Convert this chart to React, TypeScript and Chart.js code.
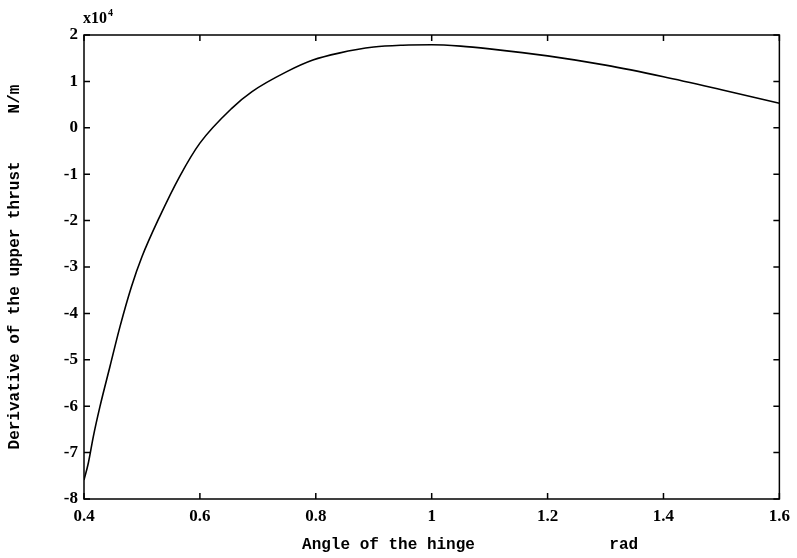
import React, { useEffect, useRef } from "react";
import { Chart, registerables } from "chart.js";

Chart.register(...registerables);

// Angle of the hinge (rad)
const angles = [0.4, 0.4074, 0.416, 0.4275, 0.4447, 0.462, 0.482, 0.5, 0.53, 0.565, 0.6, 0.655, 0.69, 0.75, 0.795, 0.84, 0.9, 0.95, 1.0, 1.05, 1.1, 1.2, 1.3, 1.4, 1.5, 1.6];
// Derivative of the upper thrust (x10^4 N/m)
const derivative = [-7.59, -7.23, -6.66, -6.01, -5.15, -4.29, -3.42, -2.78, -1.93, -1.05, -0.33, 0.42, 0.78, 1.21, 1.46, 1.61, 1.74, 1.78, 1.79, 1.76, 1.7, 1.55, 1.35, 1.1, 0.82, 0.53];

const xRange = { min: 0.4, max: 1.6, step: 0.2 };
const yRange = { min: -8, max: 2, step: 1 };
const xTitle = "        Angle of the hinge              rad";
const yTitle = "Derivative of the upper thrust     N/m";
const exponentBase = "x10";
const exponent = "4";

const framePlugin = {
  id: "frame",
  afterDraw(chart: any) {
    const { ctx, chartArea, scales } = chart;
    const { left, right, top, bottom } = chartArea;
    ctx.save();
    ctx.strokeStyle = "#000";
    ctx.lineWidth = 1.5;
    ctx.strokeRect(left, top, right - left, bottom - top);
    const tl = 6;
    ctx.beginPath();
    scales.x.ticks.forEach((t: any) => {
      const px = scales.x.getPixelForValue(t.value);
      ctx.moveTo(px, bottom);
      ctx.lineTo(px, bottom - tl);
      ctx.moveTo(px, top);
      ctx.lineTo(px, top + tl);
    });
    scales.y.ticks.forEach((t: any) => {
      const py = scales.y.getPixelForValue(t.value);
      ctx.moveTo(left, py);
      ctx.lineTo(left + tl, py);
      ctx.moveTo(right, py);
      ctx.lineTo(right - tl, py);
    });
    ctx.stroke();
    ctx.fillStyle = "#000";
    ctx.textAlign = "left";
    ctx.textBaseline = "alphabetic";
    ctx.font = "bold 16px 'Liberation Serif'";
    ctx.fillText(exponentBase, left - 1, 23);
    const w = ctx.measureText(exponentBase).width;
    ctx.font = "bold 10px 'Liberation Serif'";
    ctx.fillText(exponent, left - 1 + w + 1, 16);
    ctx.restore();
  },
};

export default function App() {
  const ref = useRef<HTMLCanvasElement>(null);
  useEffect(() => {
    if (!ref.current) return;
    const chart = new Chart(ref.current, {
      type: "line",
      data: {
        datasets: [
          {
            data: angles.map((a, i) => ({ x: a, y: derivative[i] })),
            borderColor: "#000",
            borderWidth: 1.6,
            pointRadius: 0,
            fill: false,
            cubicInterpolationMode: "monotone",
          },
        ],
      },
      options: {
        responsive: false,
        animation: false,
        layout: { padding: { left: 0, top: 35, right: 15, bottom: 0 } },
        plugins: { legend: { display: false }, tooltip: { enabled: false } },
        scales: {
          x: {
            type: "linear",
            min: xRange.min,
            max: xRange.max,
            grid: { display: false, drawTicks: false },
            border: { display: false },
            afterFit: (s: any) => {
              s.height = 59;
            },
            ticks: {
              stepSize: xRange.step,
              padding: 7,
              color: "#000",
              maxRotation: 0,
              font: { family: "'Liberation Serif'", size: 17, weight: "bold" },
              callback: (v: any) => String(parseFloat(Number(v).toFixed(2))),
            },
            title: {
              display: true,
              text: xTitle,
              color: "#000",
              padding: { top: 0, bottom: 3 },
              font: { family: "'Liberation Mono'", size: 16, weight: "bold" },
            },
          },
          y: {
            type: "linear",
            min: yRange.min,
            max: yRange.max,
            grid: { display: false, drawTicks: false },
            border: { display: false },
            afterFit: (s: any) => {
              s.width = 84;
            },
            ticks: {
              stepSize: yRange.step,
              padding: 6,
              color: "#000",
              font: { family: "'Liberation Serif'", size: 17, weight: "bold" },
            },
            title: {
              display: true,
              text: yTitle,
              color: "#000",
              padding: { top: 5, bottom: 0 },
              font: { family: "'Liberation Mono'", size: 16, weight: "bold" },
            },
          },
        },
      },
      plugins: [framePlugin],
    } as any);
    return () => chart.destroy();
  }, []);
  return (
    <div style={{ position: "absolute", left: 0, top: 0, width: 797, height: 558, background: "#fff" }}>
      <canvas ref={ref} width={797} height={558} style={{ display: "block" }} />
    </div>
  );
}
